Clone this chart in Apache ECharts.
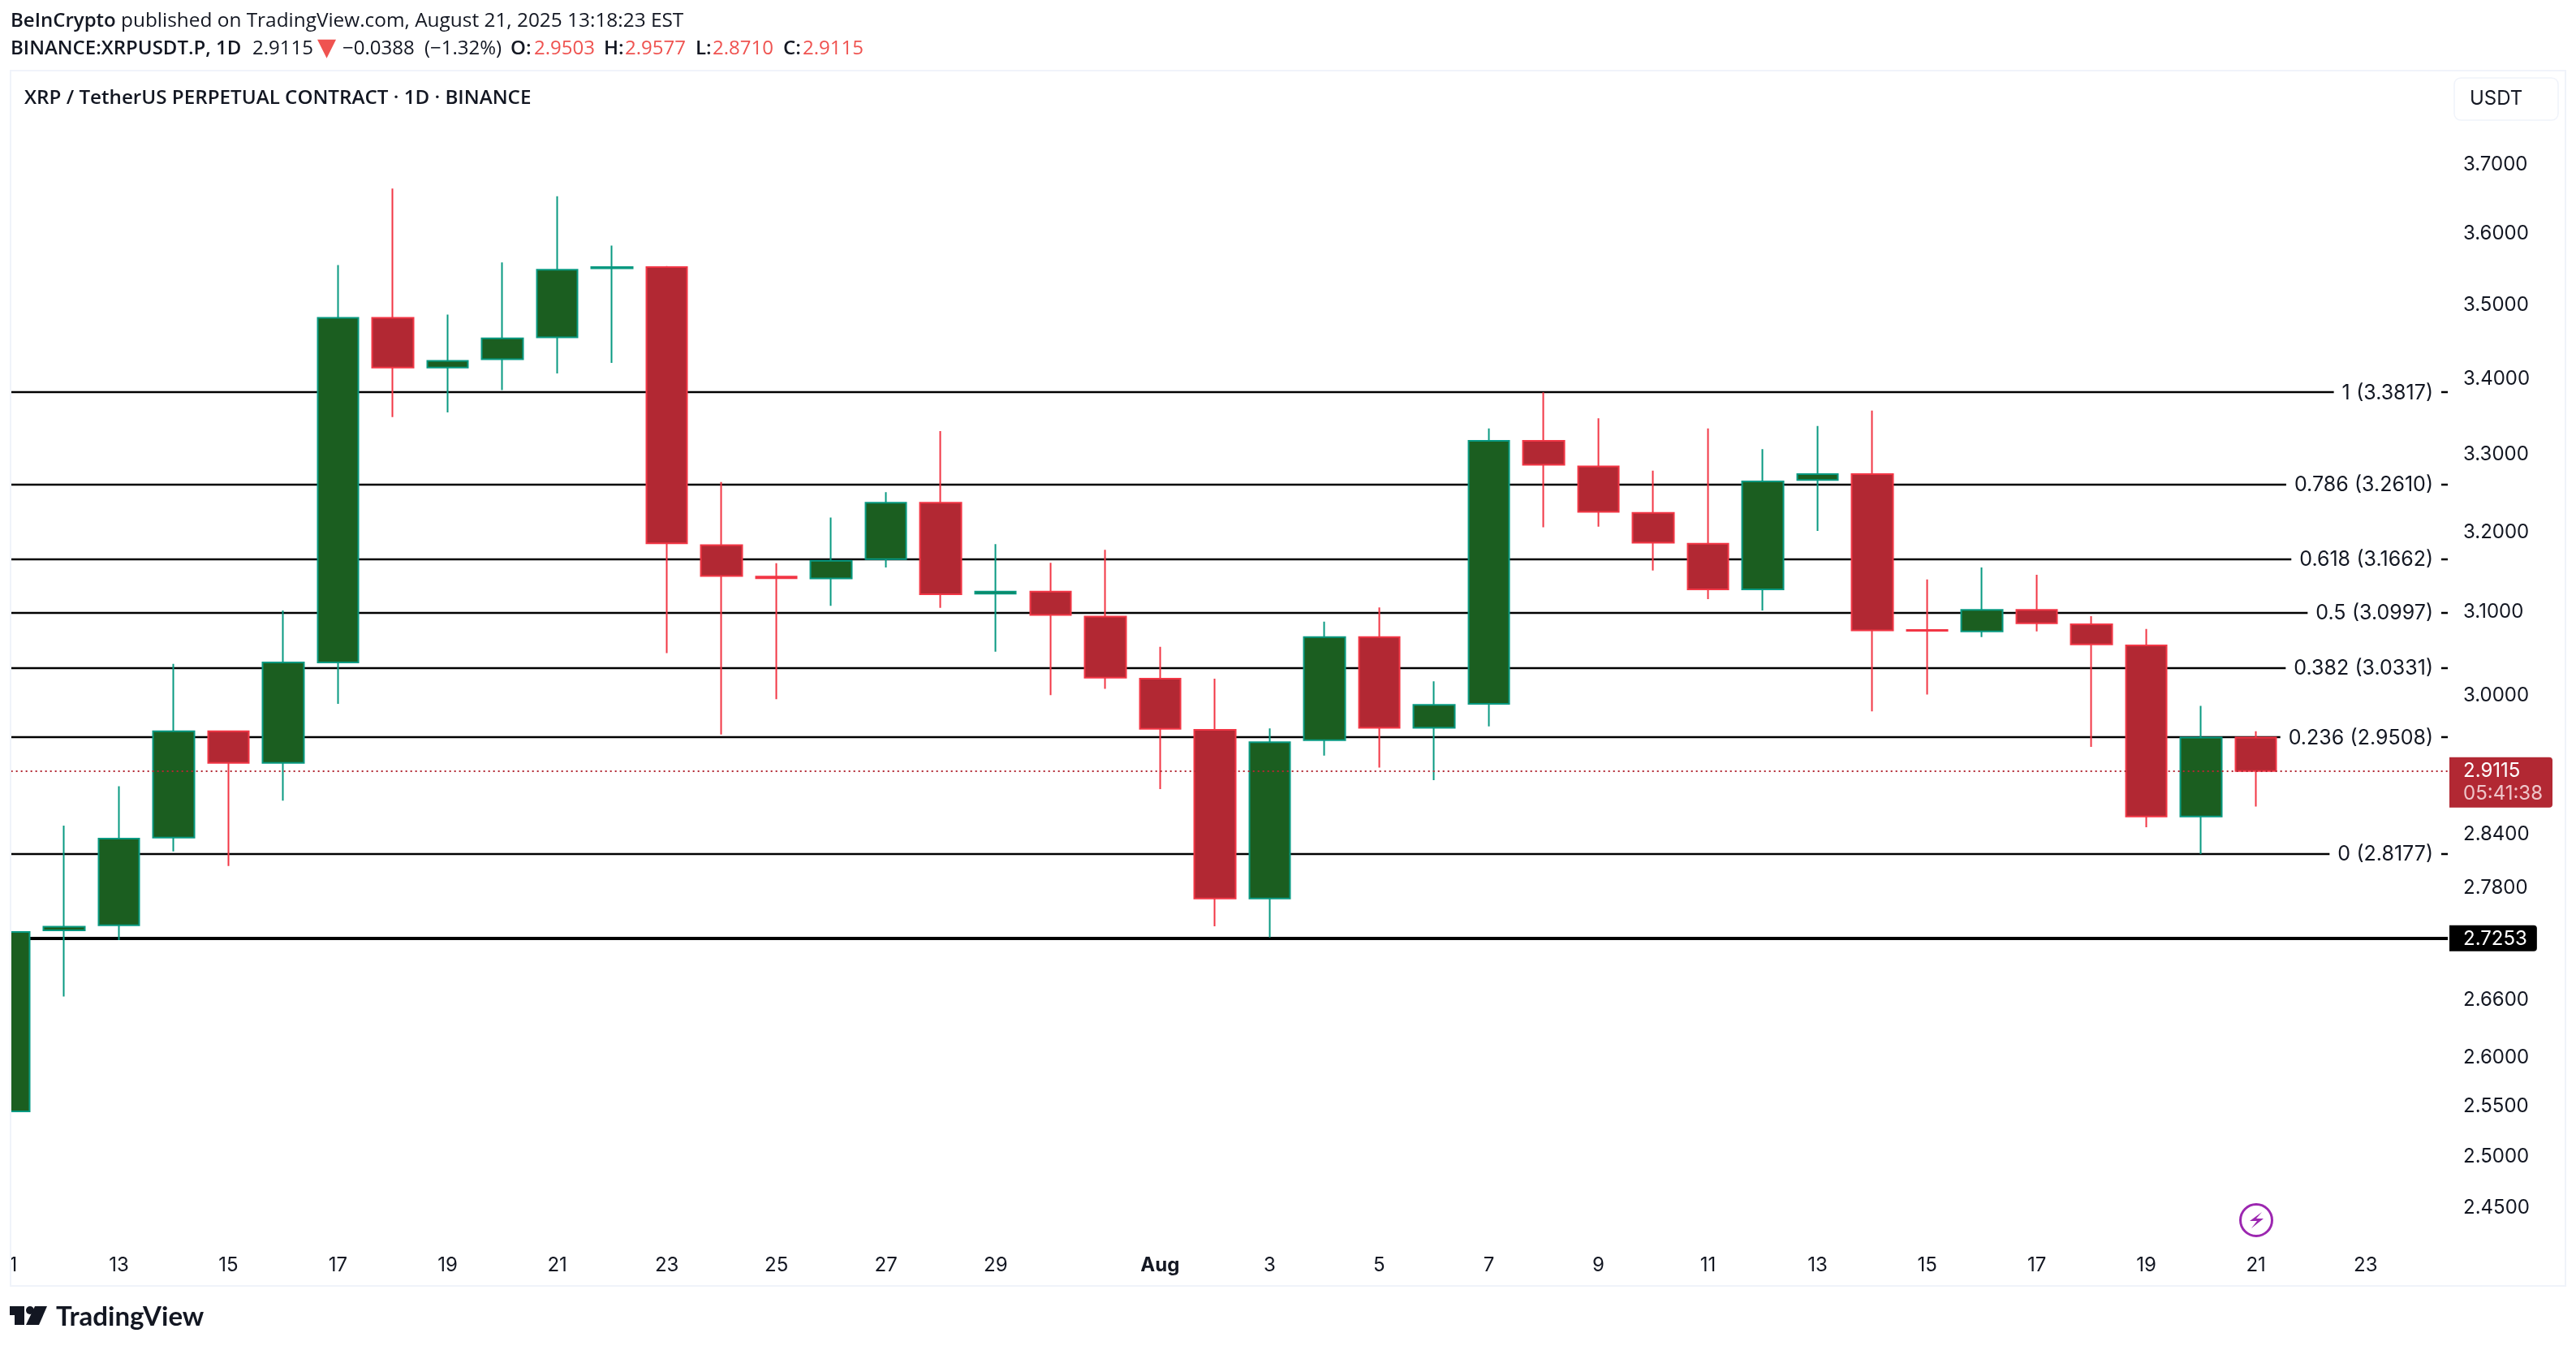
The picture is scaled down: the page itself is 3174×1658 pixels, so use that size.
<!DOCTYPE html>
<html>
<head>
<meta charset="utf-8">
<title>XRP / TetherUS</title>
<style>
html,body{margin:0;padding:0;background:#fff;}
#top{width:3174px;height:1658px;}
</style>
<script src="https://cdn.jsdelivr.net/npm/echarts@6/dist/echarts.min.js"></script>
</head>
<body>
<div id="top"></div>
<script>
// days on the time axis, 11 Jul to 24 Aug
var categories = ['11','12','13','14','15','16','17','18','19','20','21','22','23','24','25','26','27','28','29','30','31',
	'Aug','2','3','4','5','6','7','8','9','10','11','12','13','14','15','16','17','18','19','20','21','22','23','24'];
var hiddenDays = ['12','14','16','18','20','22','24','26','28','30','31','2','4','6','8','10'];

var opens  = [2.5452,2.7340,2.7395,2.8361,2.9576,2.9209,3.0391,3.4827,3.4148,3.4261,3.4558,3.5515,3.5530,3.1834,3.1440,3.1418,3.1659,3.2372,3.1230,3.1255,3.0948,3.0197,2.9594,2.7686,2.9473,3.0698,2.9617,2.9900,3.3173,3.2841,3.2242,3.1853,3.1282,3.2665,3.2741,3.0785,3.0767,3.1029,3.0854,3.0597,2.8597,2.9503];
var closes = [2.7321,2.7379,2.8349,2.9576,2.9209,3.0391,3.4827,3.4148,3.4240,3.4544,3.5493,3.5530,3.1858,3.1449,3.1420,3.1639,3.2372,3.1223,3.1255,3.0967,3.0209,2.9606,2.7686,2.9449,3.0698,2.9617,2.9888,3.3173,3.2860,3.2255,3.1866,3.1282,3.2645,3.2741,3.0779,3.0775,3.1029,3.0867,3.0610,2.8597,2.9503,2.9115];
var lows   = [2.5300,2.6633,2.7235,2.8205,2.8043,2.8776,2.9900,3.3486,3.3547,3.3846,3.4070,3.4212,3.0504,2.9540,2.9953,3.1080,3.1555,3.1054,3.0522,3.0003,3.0078,2.8908,2.7384,2.7262,2.9293,2.9155,2.9011,2.9635,3.2060,3.2066,3.1516,3.1161,3.1023,3.2014,2.9811,3.0009,3.0698,3.0767,2.9395,2.8476,2.8177,2.8710];
var highs  = [2.7500,2.8494,2.8941,3.0376,2.9576,3.1023,3.5559,3.6650,3.4870,3.5596,3.6540,3.5833,3.5545,3.2639,3.1607,3.2183,3.2508,3.3302,3.1847,3.1613,3.1776,3.0580,3.0197,2.9611,3.0886,3.1061,3.0166,3.3336,3.3817,3.3470,3.2785,3.3336,3.3065,3.3368,3.3572,3.1405,3.1555,3.1464,3.0954,3.0798,2.9876,2.9577];

var fibLevels = ['1','0.786','0.618','0.5','0.382','0.236','0'];
var fibPrices = [3.3817,3.2610,3.1662,3.0997,3.0331,2.9508,2.8177];
var supportPrice = 2.7253;
var lastPrice = 2.9115;
var countdown = '05:41:38';

var priceTicks = [3.7,3.6,3.5,3.4,3.3,3.2,3.1,3.0,2.84,2.78,2.66,2.6,2.55,2.5,2.45];

var ink = '#131722';
var red = '#ef5350';
var fontAxis = 'Inter';
var fontHead = '"Open Sans"';

// symbol row pieces, text with left edge and look
var legendPieces = [
	['BINANCE:XRPUSDT.P, 1D',13,'b'],['2.9115',311,'n'],['▼',391,'a'],['−0.0388',422,'n'],['(−1.32%)',523,'n'],
	['O:',629,'b'],['2.9503',658,'r'],['H:',744,'b'],['2.9577',770,'r'],['L:',857,'b'],['2.8710',878,'r'],['C:',965,'b'],['2.9115',989,'r']
];

var myChart = echarts.init(document.getElementById('top'), null, {renderer:'canvas'});

function candleData(){
	var out = [];
	for (var i=0;i<opens.length;i++){
		out.push([opens[i],closes[i],lows[i],highs[i]]);
	}
	return out;
}

function fibLines(){
	var out = [];
	for (var i=0;i<fibPrices.length;i++){
		out.push({yAxis:fibPrices[i],name:fibLevels[i]+'|'+fibPrices[i].toFixed(4)});
	}
	return out;
}

function legendTexts(){
	var looks = {
		b:{font:'600 24px '+fontHead,fill:ink},
		n:{font:'24px '+fontHead,fill:ink},
		r:{font:'24px '+fontHead,fill:red},
		a:{font:'30px "DejaVu Sans"',fill:red}
	};
	var out = [];
	for (var i=0;i<legendPieces.length;i++){
		var p = legendPieces[i];
		out.push({type:'text',z:102,x:p[1],y:60,style:{
			text:p[0],font:looks[p[2]].font,fill:looks[p[2]].fill,verticalAlign:'middle'
		}});
	}
	return out;
}

var option = {
	animation:false,
	backgroundColor:'#fff',
	grid:{left:-22.35,right:158,top:91,bottom:127,outerBoundsMode:'none'},
	xAxis:{
		type:'category',
		boundaryGap:true,
		data:categories,
		axisLine:{show:false},
		axisTick:{show:false},
		splitLine:{show:false},
		axisLabel:{
			margin:16,
			color:ink,
			fontFamily:fontAxis,
			fontSize:24,
			hideOverlap:false,
			interval:function(i,val){ return hiddenDays.indexOf(val)<0; },
			formatter:function(val){ return val==='Aug' ? '{b|Aug}' : val; },
			rich:{b:{fontFamily:fontAxis,fontSize:24,fontWeight:700,color:ink}}
		}
	},
	yAxis:{
		type:'log',
		logBase:Math.E,
		position:'right',
		min:2.4163,
		max:3.835,
		axisLine:{show:false},
		axisTick:{show:false},
		splitLine:{show:false},
		axisLabel:{
			customValues:priceTicks,
			margin:19,
			padding:[4,0,0,0],
			color:ink,
			fontFamily:fontAxis,
			fontSize:24,
			formatter:function(v){ return Number(v).toFixed(4); }
		}
	},
	series:[
		{
			type:'line',
			data:[],
			silent:true,
			markLine:{
				z:1,
				precision:4,
				silent:true,
				symbol:'none',
				animation:false,
				lineStyle:{color:'#000',width:2.4,type:'solid'},
				label:{
					show:true,
					position:'insideEnd',
					distance:8,
					formatter:function(p){
						var parts = p.name.split('|');
						return '{a|'+parts[0]+'} {b|('+parts[1]+')}';
					},
					backgroundColor:'#fff',
					padding:[4,10,2,10],
					rich:{
						a:{color:ink,fontFamily:fontAxis,fontSize:25,padding:[0,4,0,0]},
						b:{color:ink,fontFamily:fontAxis,fontSize:25}
					}
				},
				emphasis:{disabled:true},
				data:fibLines().concat([{
					yAxis:supportPrice,
					lineStyle:{color:'#000',width:4,type:'solid'},
					label:{
						position:'end',
						distance:2,
						formatter:supportPrice.toFixed(4),
						color:'#fff',
						fontFamily:fontAxis,
						fontSize:24,
						backgroundColor:'#000',
						borderRadius:[0,4,4,0],
						padding:[5,12,3,17]
					}
				}])
			}
		},
		{
			type:'candlestick',
			barWidth:51,
			z:2,
			data:candleData(),
			itemStyle:{
				color:'#1b5e20',
				color0:'#b22833',
				borderColor:'#089981',
				borderColor0:'#f23645',
				borderWidth:2
			},
			markLine:{
				precision:4,
				silent:true,
				symbol:'none',
				animation:false,
				lineStyle:{color:'#b22833',width:2,type:[2,4]},
				emphasis:{disabled:true},
				data:[{
					yAxis:lastPrice,
					label:{
						show:true,
						position:'end',
						distance:2,
						offset:[0,14],
						formatter:'{p|'+lastPrice.toFixed(4)+'}\n{t|'+countdown+'}',
						backgroundColor:'#b22833',
						borderRadius:[0,4,4,0],
						padding:[3,12,3,17],
						rich:{
							p:{color:'#fff',fontFamily:fontAxis,fontSize:24,lineHeight:28,align:'left'},
							t:{color:'#eec5c9',fontFamily:fontAxis,fontSize:24,lineHeight:28,align:'left'}
						}
					}
				}]
			}
		}
	],
	graphic:[
		// left strip outside the pane
		{type:'rect',z:100,shape:{x:0,y:80,width:12,height:1510},style:{fill:'#fff'}},
		{type:'rect',z:101,shape:{x:13,y:87,width:3148,height:1497},style:{fill:'none',stroke:'#f0f3fa',lineWidth:2}},
		{type:'text',z:102,x:13,y:26,style:{
			text:'{b|BeInCrypto} published on TradingView.com, August 21, 2025 13:18:23 EST',
			font:'24.4px '+fontHead,fill:ink,verticalAlign:'middle',
			rich:{b:{fontFamily:fontHead,fontSize:24,fontWeight:600,fill:ink}}
		}},
		{type:'text',z:102,x:30,y:121,style:{
			text:'XRP / TetherUS PERPETUAL CONTRACT · 1D · BINANCE',
			font:'600 24.2px '+fontHead,fill:ink,verticalAlign:'middle'
		}},
		{type:'rect',z:102,shape:{x:3024,y:96,width:128,height:52,r:8},style:{fill:'#fff',stroke:'#f0f3fa',lineWidth:1.5}},
		{type:'text',z:103,x:3043,y:122,style:{text:'USDT',font:'24px '+fontAxis,fill:ink,verticalAlign:'middle'}},
		// flash icon
		{type:'circle',z:102,shape:{cx:2780,cy:1503,r:19.5},style:{fill:'#fff',stroke:'#9c27b0',lineWidth:3}},
		{type:'polygon',z:103,shape:{points:[[2787,1493],[2772,1504],[2781,1504],[2774,1513],[2789,1501],[2780,1501]]},style:{fill:'#9c27b0'}},
		// TradingView logo
		{type:'polygon',z:102,shape:{points:[[12,1609],[30,1609],[30,1632],[18,1632],[18,1620],[12,1620]]},style:{fill:ink}},
		{type:'circle',z:102,shape:{cx:37,cy:1614,r:5},style:{fill:ink}},
		{type:'polygon',z:102,shape:{points:[[43,1609],[58,1609],[48,1632],[32,1632]]},style:{fill:ink}},
		{type:'text',z:102,x:69,y:1622,style:{text:'TradingView',font:'700 33px Lato',fill:ink,verticalAlign:'middle'}}
	].concat(legendTexts())
};
myChart.setOption(option,true);
</script>
</body>
</html>
